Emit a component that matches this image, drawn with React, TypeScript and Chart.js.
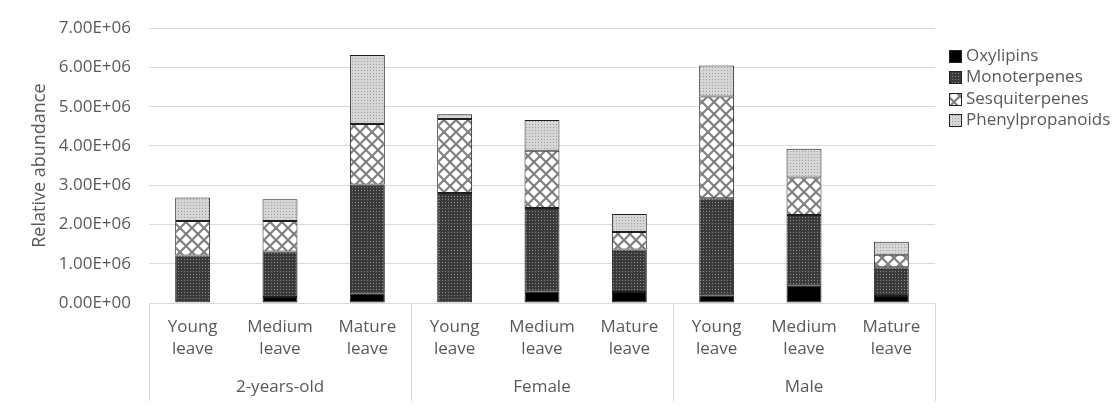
import React, { useEffect, useRef } from "react";
import { Chart, registerables } from "chart.js";

Chart.register(...registerables);

const categories: string[][] = [
  ["Young", "leave"], ["Medium", "leave"], ["Mature", "leave"],
  ["Young", "leave"], ["Medium", "leave"], ["Mature", "leave"],
  ["Young", "leave"], ["Medium", "leave"], ["Mature", "leave"],
];
const groups = ["2-years-old", "Female", "Male"];
const seriesNames = ["Oxylipins", "Monoterpenes", "Sesquiterpenes", "Phenylpropanoids"];

const oxylipins = [20000, 150000, 250000, 20000, 300000, 280000, 200000, 450000, 180000];
const monoterpenes = [1190000, 1160000, 2770000, 2780000, 2120000, 1080000, 2470000, 1790000, 730000];
const sesquiterpenes = [880000, 780000, 1540000, 1890000, 1460000, 450000, 2590000, 960000, 320000];
const phenylpropanoids = [600000, 550000, 1760000, 120000, 780000, 460000, 790000, 730000, 330000];

const yMin = 0;
const yMax = 7000000;
const yStep = 1000000;

const FONT = "'Open Sans', 'DejaVu Sans', sans-serif";
const TEXT = "#595959";
const GRID = "#d9d9d9";

function formatSci(v: number): string {
  const [m, e] = Number(v).toExponential(2).split("e");
  const sign = e[0] === "-" ? "-" : "+";
  const digits = e.replace(/^[+-]/, "").padStart(2, "0");
  return `${m}E${sign}${digits}`;
}

function makePattern(kind: string): CanvasPattern | string {
  const c = document.createElement("canvas");
  const ctx = c.getContext("2d");
  if (!ctx) return "#888";
  if (kind === "oxy") return "#000000";
  if (kind === "mono") {
    c.width = 3; c.height = 3;
    ctx.fillStyle = "#3a3a3a";
    ctx.fillRect(0, 0, 3, 3);
    ctx.fillStyle = "#8c8c8c";
    ctx.fillRect(1, 1, 1, 1);
  } else if (kind === "phen") {
    c.width = 3; c.height = 3;
    ctx.fillStyle = "#d6d6d6";
    ctx.fillRect(0, 0, 3, 3);
    ctx.fillStyle = "#a0a0a0";
    ctx.fillRect(1, 1, 1, 1);
  } else if (kind === "sesq") {
    const p = 12;
    c.width = p; c.height = p;
    ctx.fillStyle = "#ffffff";
    ctx.fillRect(0, 0, p, p);
    ctx.strokeStyle = "#808080";
    ctx.lineWidth = 2.2;
    for (const off of [-p, 0, p]) {
      ctx.beginPath();
      ctx.moveTo(off - 2, -2);
      ctx.lineTo(off + p + 2, p + 2);
      ctx.stroke();
      ctx.beginPath();
      ctx.moveTo(off - 2, p + 2);
      ctx.lineTo(off + p + 2, -2);
      ctx.stroke();
    }
  }
  const pat = ctx.createPattern(c, "repeat");
  return pat || "#888";
}

export default function App() {
  const ref = useRef<HTMLCanvasElement | null>(null);

  useEffect(() => {
    if (!ref.current) return;
    const fills = [makePattern("oxy"), makePattern("mono"), makePattern("sesq"), makePattern("phen")];
    const values = [oxylipins, monoterpenes, sesquiterpenes, phenylpropanoids];

    const groupAxisPlugin = {
      id: "groupAxis",
      afterDraw(chart: any) {
        const ctx = chart.ctx as CanvasRenderingContext2D;
        const xs = chart.scales.x;
        const bottom = chart.chartArea.bottom;
        ctx.save();
        ctx.strokeStyle = GRID;
        ctx.lineWidth = 1;
        for (let g = 0; g <= groups.length; g++) {
          const px = Math.round(xs.getPixelForValue(g * 3 - 0.5)) + 0.5;
          ctx.beginPath();
          ctx.moveTo(px, bottom);
          ctx.lineTo(px, 401);
          ctx.stroke();
        }
        ctx.fillStyle = TEXT;
        ctx.font = `17px ${FONT}`;
        ctx.textAlign = "center";
        ctx.textBaseline = "middle";
        groups.forEach((g, i) => {
          ctx.fillText(g, xs.getPixelForValue(i * 3 + 1), 387);
        });

        // legend
        const lx = 949;
        const ly = [56, 77, 99, 120];
        const bs = 13;
        ctx.textAlign = "left";
        seriesNames.forEach((name, i) => {
          ctx.fillStyle = fills[i] as any;
          ctx.fillRect(lx, Math.round(ly[i] - bs / 2), bs, bs);
          ctx.strokeStyle = "#222";
          ctx.lineWidth = 1;
          ctx.strokeRect(lx + 0.5, Math.round(ly[i] - bs / 2) + 0.5, bs - 1, bs - 1);
          ctx.fillStyle = TEXT;
          ctx.fillText(name, lx + bs + 4, ly[i]);
        });
        ctx.restore();
      },
    };

    const chart = new Chart(ref.current, {
      type: "bar",
      data: {
        labels: categories,
        datasets: seriesNames.map((name, i) => ({
          label: name,
          data: values[i],
          backgroundColor: fills[i] as any,
          borderColor: "#1e1e1e",
          borderWidth: 1,
          borderSkipped: false,
          categoryPercentage: 1,
          barPercentage: 0.4,
        })),
      },
      options: {
        animation: false,
        responsive: true,
        maintainAspectRatio: false,
        layout: { padding: { top: 22, right: 178, left: 0, bottom: 0 } },
        plugins: {
          legend: { display: false },
          tooltip: { enabled: false },
        },
        scales: {
          x: {
            stacked: true,
            grid: { display: false, drawTicks: false },
            border: { display: true, color: GRID, width: 1 },
            ticks: {
              color: TEXT,
              font: { family: FONT, size: 17, lineHeight: 1.3 },
              padding: 13,
              maxRotation: 0,
              autoSkip: false,
            },
            afterFit(scale: any) {
              scale.height = 105;
            },
          },
          y: {
            stacked: true,
            min: yMin,
            max: yMax,
            grid: { color: GRID, lineWidth: 1, drawTicks: false },
            border: { display: false },
            ticks: {
              stepSize: yStep,
              color: TEXT,
              font: { family: FONT, size: 17 },
              padding: 18,
              callback: (v: any) => formatSci(Number(v)),
            },
            title: {
              display: true,
              text: "Relative abundance",
              color: TEXT,
              font: { family: FONT, size: 18 },
              padding: { top: 29, bottom: 0 },
            },
            afterFit(scale: any) {
              scale.width = 149;
            },
          },
        },
      },
      plugins: [groupAxisPlugin],
    });
    return () => chart.destroy();
  }, []);

  return (
    <div style={{ position: "fixed", left: 0, top: 0, width: 1113, height: 408, background: "#fff" }}>
      <canvas ref={ref} />
    </div>
  );
}
